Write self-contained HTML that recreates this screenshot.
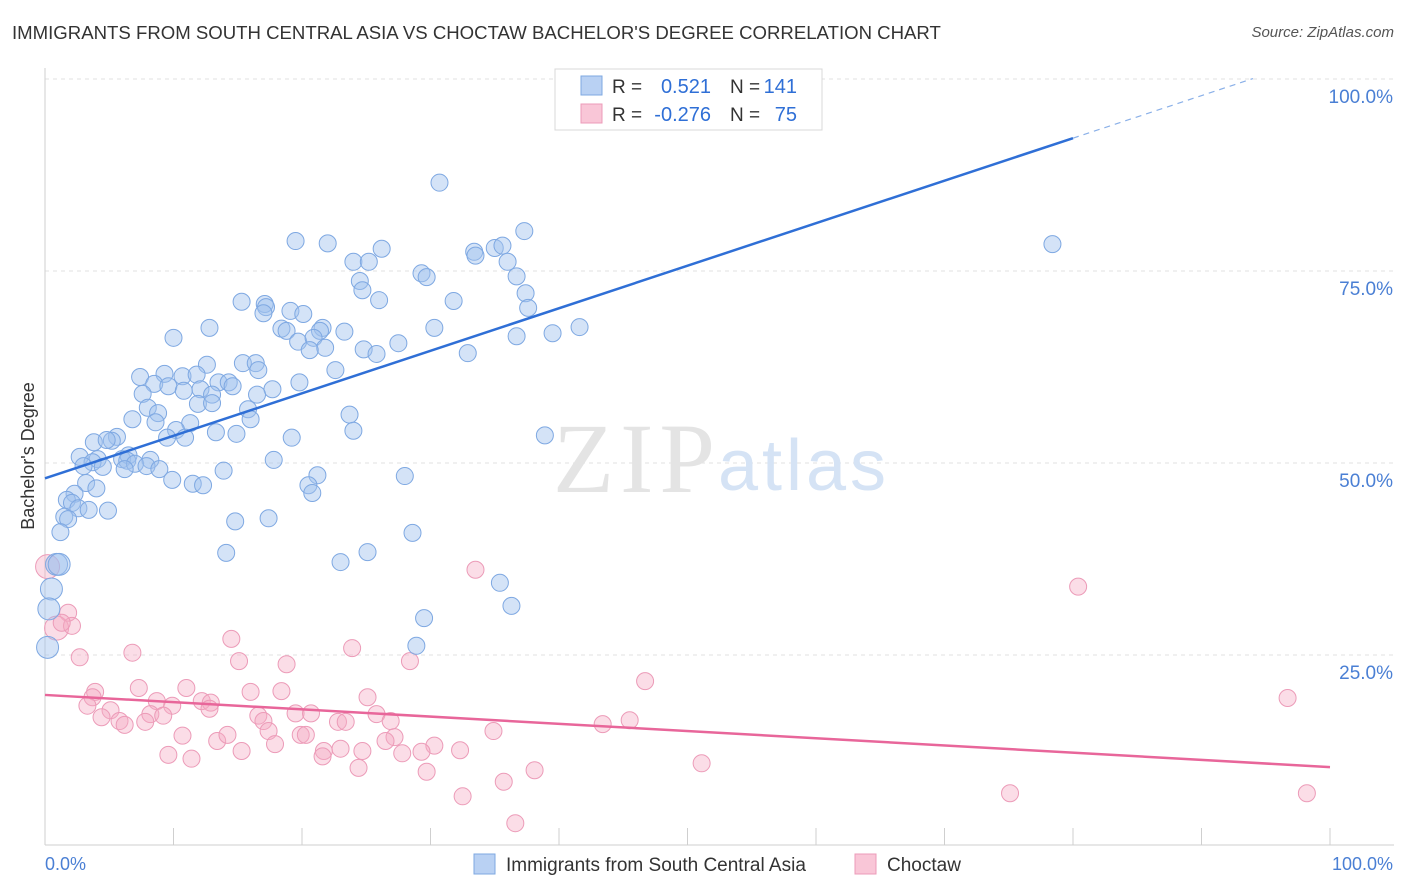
<!DOCTYPE html>
<html><head><meta charset="utf-8">
<style>
body{margin:0;background:#fff;font-family:"Liberation Sans",sans-serif;}
#wrap{position:relative;width:1406px;height:892px;overflow:hidden;}
.title{position:absolute;left:12px;top:22px;font-size:18.6px;color:#333;}
.source{position:absolute;right:12px;top:24px;font-size:15px;color:#555;font-style:italic;}
</style></head><body>
<div id="wrap">
<div class="title">IMMIGRANTS FROM SOUTH CENTRAL ASIA VS CHOCTAW BACHELOR'S DEGREE CORRELATION CHART</div>
<div class="source">Source: ZipAtlas.com</div>
<svg id="svg" width="1406" height="892" style="position:absolute;left:0;top:0"></svg>
</div>
<script>
const blueX=[30.7,19.5,22.0,26.2,24.0,25.2,33.4,33.5,35.0,35.6,37.3,36.0,29.3,29.7,36.7,24.5,24.7,37.4,26.0,31.8,15.3,17.1,17.2,17.0,19.1,20.1,37.6,78.4,12.8,18.4,18.8,21.6,21.4,23.3,30.3,41.6,39.5,36.7,10.0,19.7,20.9,21.8,20.6,27.5,24.8,25.8,32.9,12.6,15.4,16.4,16.6,9.3,10.7,11.8,22.6,7.4,8.5,9.6,13.5,14.3,14.6,12.1,10.8,13.0,19.8,17.7,16.5,7.6,11.9,13.0,8.0,8.8,15.8,23.7,6.8,8.6,11.3,16.0,10.2,9.5,10.9,13.3,14.9,24.0,19.2,38.9,5.6,5.2,3.8,4.8,2.7,4.1,3.7,6.0,6.5,6.4,8.2,7.0,7.9,4.5,6.2,3.0,8.9,13.9,17.8,21.2,28.0,9.9,11.5,12.3,3.2,4.0,20.5,20.8,2.3,1.7,2.1,2.6,3.4,4.9,1.5,1.8,14.8,17.4,1.2,28.6,14.1,25.1,23.0,0.9,1.1,0.5,35.4,0.3,36.3,29.5,28.9,0.2];
const blueY=[86.5,78.9,78.6,77.9,76.2,76.2,77.5,77.0,78.0,78.3,80.2,76.2,74.7,74.2,74.3,73.7,72.5,72.1,71.2,71.1,71.0,70.7,70.3,69.5,69.8,69.4,70.2,78.5,67.6,67.5,67.2,67.6,67.2,67.1,67.6,67.7,66.9,66.5,66.3,65.8,66.3,65.0,64.7,65.6,64.8,64.2,64.3,62.8,63.0,63.0,62.1,61.6,61.3,61.5,62.1,61.2,60.3,60.0,60.5,60.5,60.0,59.6,59.4,58.9,60.5,59.6,58.9,59.0,57.7,57.8,57.2,56.5,57.0,56.3,55.7,55.3,55.2,55.7,54.3,53.3,53.3,54.0,53.8,54.2,53.3,53.6,53.4,52.9,52.7,53.0,50.8,50.5,50.1,50.5,51.0,50.3,50.4,49.9,49.6,49.5,49.2,49.6,49.2,49.0,50.4,48.4,48.3,47.8,47.3,47.1,47.4,46.7,47.1,46.1,46.0,45.2,44.8,44.1,43.9,43.8,43.0,42.7,42.4,42.8,41.0,40.9,38.3,38.4,37.1,36.8,36.8,33.6,34.4,31.0,31.4,29.8,26.2,26.0];
const pinkX=[33.5,80.4,0.2,1.8,0.9,2.1,1.3,2.7,6.8,14.5,23.9,15.1,18.8,28.4,46.7,96.7,3.9,3.7,7.3,11.0,16.0,18.4,8.7,9.9,12.2,12.9,25.1,3.3,5.1,8.2,12.8,4.4,5.8,6.2,7.8,9.2,16.6,17.0,19.5,20.7,25.8,22.8,23.4,26.9,43.4,45.5,34.9,10.7,17.4,13.4,14.2,19.9,20.3,27.2,26.5,17.9,15.3,21.7,23.0,24.7,30.3,29.3,32.3,27.8,21.6,9.6,11.4,24.4,51.1,29.7,38.1,35.7,32.5,75.1,98.2,36.6];
const pinkY=[36.1,33.9,36.5,30.5,28.5,28.8,29.2,24.7,25.3,27.1,25.9,24.2,23.8,24.2,21.6,19.4,20.2,19.5,20.7,20.7,20.2,20.3,19.0,18.4,19.0,18.8,19.5,18.4,17.8,17.3,18.0,16.9,16.4,15.9,16.3,17.1,17.1,16.4,17.4,17.4,17.3,16.3,16.3,16.4,16.0,16.5,15.1,14.5,15.1,13.8,14.6,14.6,14.6,14.3,13.8,13.4,12.5,12.5,12.8,12.5,13.2,12.4,12.6,12.2,11.8,12.0,11.5,10.3,10.9,9.8,10.0,8.5,6.6,7.0,7.0,3.1];
const yTicks=[25,50,75,100];
const yTickLabels=["25.0%","50.0%","75.0%","100.0%"];
const blueLine=[48.0,92.3,80];
const pinkLine=[19.8,10.4];

const NS="http://www.w3.org/2000/svg";
const svg=document.getElementById('svg');
const X=v=>45+v*12.85;
const Y=v=>847-v*7.68;
function el(t,a,p){const e=document.createElementNS(NS,t);for(const k in a)e.setAttribute(k,a[k]);(p||svg).appendChild(e);return e;}

yTicks.forEach((t,i)=>{
  const g=el('line',{x1:45,x2:1394,y1:Y(t),y2:Y(t),stroke:'#e2e2e2','stroke-dasharray':'4,4'});
  
  
  const tx=el('text',{x:1393,y:Y(t)+24,'text-anchor':'end','font-size':19,fill:'#4a7fd4','font-family':'Liberation Sans'});
  tx.textContent=yTickLabels[i];
  
  
});
const ax=el('line',{x1:45,x2:1394,y1:845,y2:845,stroke:'#cfcfcf'});


const ay=el('line',{x1:45,x2:45,y1:68,y2:845,stroke:'#cfcfcf'});


for(let i=0;i<=10;i++){const t=el('line',{x1:X(i*10),x2:X(i*10),y1:828,y2:845,stroke:'#cfcfcf'});
  
  }
[[45,'start','0.0%'],[1393,'end','100.0%']].forEach(d=>{const t=el('text',{x:d[0],y:870,'text-anchor':d[1],'font-size':18,fill:'#4a7fd4','font-family':'Liberation Sans'});t.textContent=d[2];
  
  });
const yt=el('text',{x:34,y:456,'text-anchor':'middle','font-size':18,fill:'#333',transform:'rotate(-90 34 456)','font-family':'Liberation Sans'});
yt.textContent="Bachelor's Degree";


const wm=el('text',{x:553,y:492,'font-size':100,fill:'#e4e4e4','font-family':'Liberation Serif',textLength:162});wm.textContent='ZIP';


const wm2=el('text',{x:718,y:490,'font-size':72,fill:'#d5e3f5','font-family':'Liberation Sans',textLength:168});wm2.textContent='atlas';



pinkX.forEach((x,i)=>{const c=el('circle',{cx:X(x),cy:Y(pinkY[i]),r:(x<1?12:8.5),fill:'rgba(246,170,196,0.4)',stroke:'#ec9bb8','stroke-width':1});
  
  });
blueX.forEach((x,i)=>{const c=el('circle',{cx:X(x),cy:Y(blueY[i]),r:(x<1.2?11:8.5),fill:'rgba(160,192,238,0.45)',stroke:'#7ea8e2','stroke-width':1});
  
  });

const bl=el('line',{x1:X(0),y1:Y(blueLine[0]),x2:X(blueLine[2]),y2:Y(blueLine[1]),stroke:'#2f6fd6','stroke-width':2.5});


const slope=(blueLine[1]-blueLine[0])/blueLine[2];
const bd=el('line',{x1:X(blueLine[2]),y1:Y(blueLine[1]),x2:X(94),y2:Y(blueLine[0]+slope*94),stroke:'#8ab0e8','stroke-width':1.2,'stroke-dasharray':'6,5'});


const pl=el('line',{x1:X(0),y1:Y(pinkLine[0]),x2:X(100),y2:Y(pinkLine[1]),stroke:'#e8669a','stroke-width':2.5});



const lg=el('g',{});


el('rect',{x:555,y:69,width:267,height:61,fill:'#fff',stroke:'#d8d8d8'},lg);
el('rect',{x:581,y:76,width:21,height:19,fill:'#b9d1f3',stroke:'#7ea8e2'},lg);
el('rect',{x:581,y:104,width:21,height:19,fill:'#f9c6d7',stroke:'#ec9bb8'},lg);
[[93,'0.521','141'],[121,'-0.276','75']].forEach(r=>{
  const a=el('text',{x:612,y:r[0],'font-size':19,fill:'#333','font-family':'Liberation Sans'},lg);a.textContent='R = ';
  const b=el('text',{x:711,y:r[0],'text-anchor':'end','font-size':20,fill:'#2f6fd6','font-family':'Liberation Sans'},lg);b.textContent=r[1];
  const c=el('text',{x:730,y:r[0],'font-size':19,fill:'#333','font-family':'Liberation Sans'},lg);c.textContent='N = ';
  const d=el('text',{x:797,y:r[0],'text-anchor':'end','font-size':20,fill:'#2f6fd6','font-family':'Liberation Sans'},lg);d.textContent=r[2];
});

const bl2=el('g',{});


el('rect',{x:474,y:854,width:21,height:20,fill:'#b9d1f3',stroke:'#7ea8e2'},bl2);
const t1=el('text',{x:506,y:871,'font-size':19,fill:'#333','font-family':'Liberation Sans'},bl2);t1.textContent='Immigrants from South Central Asia';


el('rect',{x:855,y:854,width:21,height:20,fill:'#f9c6d7',stroke:'#ec9bb8'},bl2);
const t2=el('text',{x:887,y:871,'font-size':19,fill:'#333','font-family':'Liberation Sans'},bl2);t2.textContent='Choctaw';


</script>
</body></html>
